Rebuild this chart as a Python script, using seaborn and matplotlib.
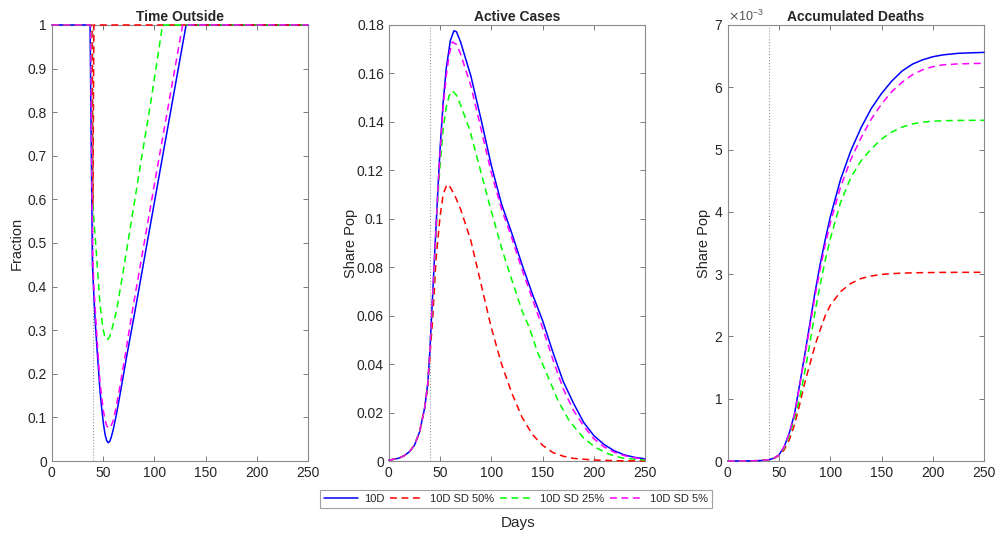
import numpy as np
import pandas as pd
import matplotlib
matplotlib.use("Agg")
import matplotlib.pyplot as plt
from matplotlib.ticker import FuncFormatter, ScalarFormatter, MultipleLocator
import seaborn as sns

# ---------------- data ----------------
SERIES = ["10D", "10D SD 50%", "10D SD 25%", "10D SD 5%"]
SD_START_DAY = 40

# Panel 1: Time Outside (fraction)
TO_DAYS_10D = [0, 37.3, 39.6, 41, 42.3, 44, 45.5, 47, 48.8, 50.5, 52, 53.5, 55, 56.5, 58, 60, 63,
               66.7, 73, 81.3, 107.4, 131, 250]
TO_10D = [1, 1, 0.45, 0.38, 0.32, 0.26, 0.21, 0.16, 0.117, 0.083, 0.06, 0.047, 0.042, 0.045,
          0.055, 0.073, 0.107, 0.155, 0.24, 0.346, 0.69, 1, 1]
TO_DAYS_SD50 = [0, 39.2, 40, 41, 250]
TO_SD50 = [1, 1, 0.58, 1, 1]
TO_DAYS_SD25 = [0, 38, 39.7, 41, 42.3, 44, 45.5, 47, 48.8, 50, 51.5, 53.5, 55.5, 57.5, 60, 63.2,
                70, 80, 87.2, 97, 108, 250]
TO_SD25 = [1, 1, 0.6, 0.555, 0.514, 0.46, 0.408, 0.36, 0.323, 0.303, 0.287, 0.278, 0.281, 0.292,
           0.315, 0.346, 0.44, 0.585, 0.69, 0.83, 1, 1]
TO_DAYS_SD5 = [0, 37.8, 39.8, 41, 42.5, 44, 45.5, 47, 49, 50.5, 52, 53.5, 55.5, 57.5, 59.5, 62,
               65, 70, 78.7, 102.5, 127.6, 250]
TO_SD5 = [1, 1, 0.47, 0.40, 0.34, 0.285, 0.23, 0.18, 0.14, 0.112, 0.094, 0.081, 0.075, 0.079,
          0.09, 0.115, 0.152, 0.22, 0.346, 0.667, 1, 1]

# Panel 2: Active Cases (share of population)
AC_DAYS_10D = [0, 10, 15, 20, 25, 30, 35, 38, 40, 42, 45, 48, 50, 53, 56, 60, 63.5, 66, 70, 75,
               80, 90, 100, 110, 120, 130, 140, 150, 160, 170, 180, 190, 200, 210, 220, 230, 240, 250]
AC_10D = [0.0003, 0.0012, 0.0022, 0.0038, 0.0065, 0.012, 0.022, 0.032, 0.045, 0.062,
          0.088, 0.113, 0.129, 0.148, 0.162, 0.1735, 0.1776, 0.1772, 0.173, 0.166,
          0.159, 0.141, 0.122, 0.106, 0.094, 0.081, 0.069, 0.058, 0.045, 0.033,
          0.024, 0.016, 0.0105, 0.0068, 0.0042, 0.0025, 0.0015, 0.0009]
AC_DAYS_SD50 = [0, 10, 15, 20, 25, 30, 35, 38, 40, 43, 46, 50, 53, 56.7, 60, 65, 70, 80, 90, 100,
                110, 120, 130, 140, 150, 160, 170, 180, 200, 225, 250]
AC_SD50 = [0.0003, 0.0012, 0.0022, 0.0038, 0.0065, 0.012, 0.022, 0.031, 0.043, 0.06,
           0.083, 0.101, 0.110, 0.1142, 0.113, 0.109, 0.104, 0.091, 0.073, 0.055,
           0.040, 0.028, 0.018, 0.011, 0.0065, 0.0035, 0.0020, 0.0011, 0.0004, 0.0001, 0.00005]
AC_DAYS_SD25 = [0, 10, 15, 20, 25, 30, 35, 38, 40, 44, 48, 50, 53, 56, 59, 62, 66, 70, 79, 90,
                98, 110, 118, 130, 137, 145, 157, 165, 176, 190, 202, 215, 228, 250]
AC_SD25 = [0.0003, 0.0012, 0.0022, 0.0038, 0.0065, 0.012, 0.022, 0.032, 0.045, 0.076,
           0.11, 0.122, 0.137, 0.146, 0.151, 0.1528, 0.151, 0.147, 0.1366, 0.119,
           0.1062, 0.088, 0.0773, 0.062, 0.0552, 0.045, 0.0331, 0.025, 0.0166, 0.0095,
           0.0055, 0.0028, 0.0012, 0.0004]
AC_DAYS_SD5 = [0, 10, 15, 20, 25, 30, 35, 38, 40, 42, 45, 48, 50, 53, 56, 59, 62, 66, 70, 80,
               90, 100, 110, 120, 130, 140, 150, 160, 170, 180, 190, 200, 210, 220, 230, 240, 250]
AC_SD5 = [0.0003, 0.0012, 0.0022, 0.0038, 0.0065, 0.012, 0.022, 0.032, 0.045, 0.062,
          0.087, 0.112, 0.127, 0.146, 0.159, 0.168, 0.173, 0.172, 0.168, 0.155,
          0.137, 0.119, 0.104, 0.092, 0.079, 0.067, 0.055, 0.042, 0.030, 0.021,
          0.0145, 0.0092, 0.0058, 0.0036, 0.0022, 0.0013, 0.0008]

# Panel 3: Accumulated Deaths (values in units of 1e-3 of population)
AD_UNIT = 1e-3
AD_DAYS = [0, 20, 30, 40, 45, 50, 55, 60, 65, 70, 75, 80, 85, 90, 95, 100, 110, 120, 130, 140,
           150, 160, 170, 180, 190, 200, 210, 225, 250]
AD_10D = [0, 0.002, 0.006, 0.02, 0.045, 0.1, 0.23, 0.45, 0.75, 1.22, 1.7, 2.2, 2.7, 3.15, 3.55,
          3.92, 4.52, 4.98, 5.35, 5.66, 5.9, 6.1, 6.26, 6.37, 6.44, 6.49, 6.52, 6.545, 6.56]
AD_SD50 = [0, 0.002, 0.006, 0.02, 0.042, 0.085, 0.18, 0.34, 0.58, 0.9, 1.25, 1.55, 1.85, 2.1, 2.33,
           2.5, 2.72, 2.85, 2.93, 2.97, 2.995, 3.008, 3.016, 3.021, 3.024, 3.026, 3.028, 3.029, 3.03]
AD_SD25 = [0, 0.002, 0.006, 0.02, 0.045, 0.095, 0.21, 0.4, 0.68, 1.0, 1.42, 1.88, 2.38, 2.82, 3.22,
           3.57, 4.15, 4.55, 4.82, 5.01, 5.17, 5.28, 5.36, 5.41, 5.44, 5.455, 5.463, 5.468, 5.47]
AD_SD5 = [0, 0.002, 0.006, 0.02, 0.045, 0.1, 0.23, 0.44, 0.74, 1.2, 1.67, 2.15, 2.64, 3.07, 3.47,
          3.82, 4.4, 4.84, 5.19, 5.49, 5.73, 5.93, 6.08, 6.2, 6.28, 6.33, 6.36, 6.375, 6.385]

# ---------------- styling ----------------
COLORS = ["#0000ff", "#ff0000", "#00ff00", "#ff00ff"]
STYLES = ["-", (0, (4.5, 3)), (0, (4.5, 3)), (0, (4.5, 3))]

sns.set_style("ticks")
plt.rcParams["font.family"] = ["Liberation Sans", "DejaVu Sans"]
plt.rcParams.update({
    "xtick.direction": "in", "ytick.direction": "in",
    "xtick.top": True, "ytick.right": True,
    "xtick.major.size": 3.5, "ytick.major.size": 3.5,
    "xtick.major.width": 0.7, "ytick.major.width": 0.7,
    "xtick.color": "#7a7a7a", "ytick.color": "#7a7a7a",
    "xtick.labelcolor": "#262626", "ytick.labelcolor": "#262626",
    "xtick.labelsize": 10, "ytick.labelsize": 10,
    "axes.edgecolor": "#8a8a8a", "axes.linewidth": 0.8,
    "axes.labelcolor": "#262626",
})


def long_frame(days_list, vals_list, scale=1.0):
    frames = []
    for name, d, v in zip(SERIES, days_list, vals_list):
        frames.append(pd.DataFrame({"day": d, "value": np.asarray(v) * scale, "series": name}))
    return pd.concat(frames, ignore_index=True)


panels = [
    dict(title="Time Outside", ylabel="Fraction", labelpad=3,
         df=long_frame([TO_DAYS_10D, TO_DAYS_SD50, TO_DAYS_SD25, TO_DAYS_SD5],
                       [TO_10D, TO_SD50, TO_SD25, TO_SD5]),
         ylim=(0, 1), ystep=0.1),
    dict(title="Active Cases", ylabel="Share Pop", labelpad=-1,
         df=long_frame([AC_DAYS_10D, AC_DAYS_SD50, AC_DAYS_SD25, AC_DAYS_SD5],
                       [AC_10D, AC_SD50, AC_SD25, AC_SD5]),
         ylim=(0, 0.18), ystep=0.02),
    dict(title="Accumulated Deaths", ylabel="Share Pop", labelpad=2,
         df=long_frame([AD_DAYS] * 4, [AD_10D, AD_SD50, AD_SD25, AD_SD5], AD_UNIT),
         ylim=(0, 7e-3), ystep=1e-3),
]

fig = plt.figure(figsize=(9.97, 5.37), dpi=100)
lefts = [0.052, 0.390, 0.730]
axes = [fig.add_axes([l, 0.1415, 0.257, 0.812]) for l in lefts]

gfmt = FuncFormatter(lambda v, p: ("%g" % round(v, 6)))

for ax, p in zip(axes, panels):
    ax.axvline(SD_START_DAY, color="#9a9a9a", linestyle=":", linewidth=0.8, zorder=1)
    for name, col, ls in zip(SERIES, COLORS, STYLES):
        sub = p["df"][p["df"]["series"] == name]
        sns.lineplot(data=sub, x="day", y="value", ax=ax, color=col, linestyle=ls,
                     linewidth=1.1, label=name, sort=False, estimator=None, zorder=3,
                     clip_on=False)
    if ax.get_legend() is not None:
        ax.get_legend().remove()
    ax.set_xlim(0, 250)
    ax.set_ylim(*p["ylim"])
    ax.xaxis.set_major_locator(MultipleLocator(50))
    ax.yaxis.set_major_locator(MultipleLocator(p["ystep"]))
    ax.xaxis.set_major_formatter(gfmt)
    ax.set_xlabel("")
    ax.set_ylabel(p["ylabel"], fontsize=10.5, labelpad=p["labelpad"])
    ax.set_title(p["title"], fontsize=10, fontweight="bold", pad=3)
    for s in ax.spines.values():
        s.set_visible(True)
        s.set_zorder(2)

axes[0].yaxis.set_major_formatter(gfmt)
axes[1].yaxis.set_major_formatter(gfmt)
sf = ScalarFormatter(useMathText=True)
sf.set_powerlimits((-2, 2))
axes[2].yaxis.set_major_formatter(sf)
axes[2].yaxis.get_offset_text().set_fontsize(9)
axes[2].yaxis.get_offset_text().set_color("#555555")

handles, labels = axes[0].get_legend_handles_labels()
leg = fig.legend(handles, labels, loc="center", bbox_to_anchor=(0.5176, 0.071), ncol=4,
                 frameon=True, fancybox=False, edgecolor="#8a8a8a", fontsize=8,
                 handlelength=3.0, columnspacing=0.5, handletextpad=0.6,
                 borderpad=0.35, borderaxespad=0)
leg.get_frame().set_linewidth(0.8)

fig.text(0.5195, 0.026, "Days", ha="center", va="center", fontsize=11, color="#262626")

fig.savefig("out.png", dpi=100, facecolor="white")
